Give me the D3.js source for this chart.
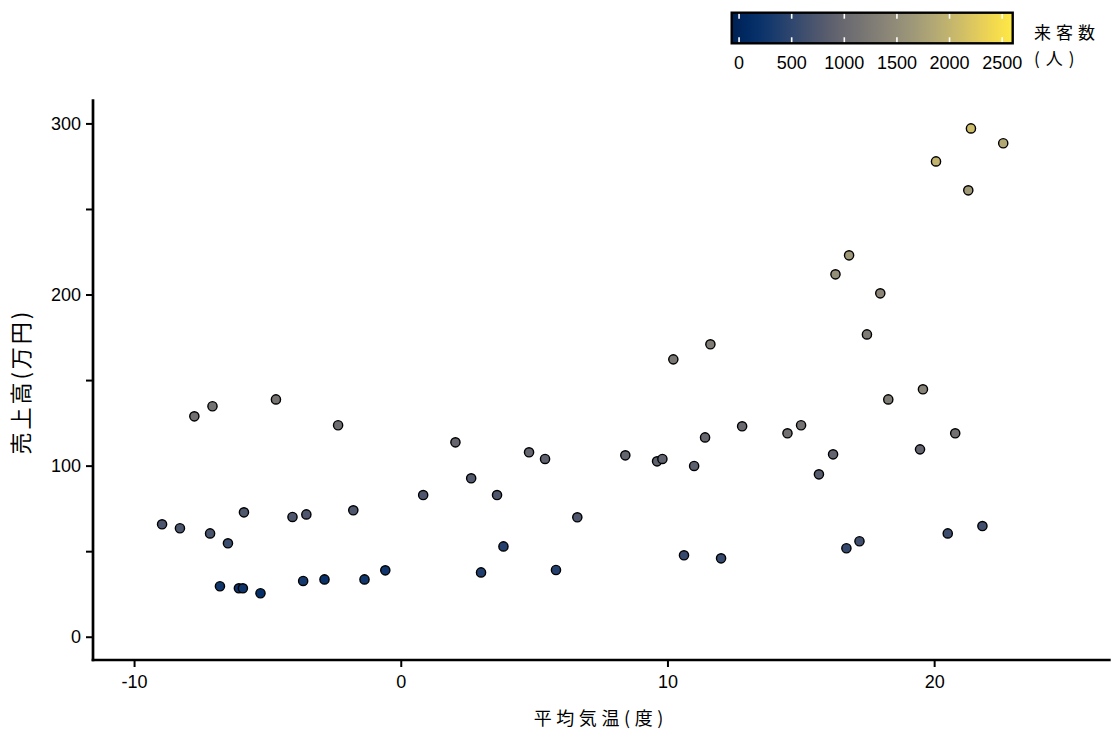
<!DOCTYPE html>
<html><head><meta charset="utf-8">
<script src="https://cdn.jsdelivr.net/npm/d3@7"></script>
<style>
html,body{margin:0;padding:0;background:#fff;}
svg{display:block;}
</style></head>
<body>
<svg id="chart" width="1116" height="735"></svg>
<script>
// 平均気温(度)
const temperature = [-8.95,-8.28,-7.74,-7.06,-7.15,-6.48,-5.88,-6.78,-6.07,-5.92,-5.26,-4.68,-4.06,-3.54,-3.66,-2.86,-2.35,-1.78,-1.36,-0.58,
  0.84,2.05,2.64,3.01,3.61,3.85,4.81,5.41,5.82,6.62,8.42,9.61,9.81,10.22,10.62,11.00,11.41,11.61,12.01,12.80,
  14.50,15.01,15.68,16.21,16.30,16.81,16.71,17.20,17.48,17.98,18.28,19.47,19.58,20.07,20.51,20.79,21.28,21.38,21.81,22.59];
// 売上高(万円)
const sales = [65.7,63.4,128.8,134.7,60.4,54.6,72.7,29.5,28.3,28.3,25.4,138.7,70.0,71.5,32.6,33.5,123.6,73.9,33.5,38.8,
  82.8,113.6,92.6,37.6,82.8,52.8,107.8,103.9,39.0,69.8,106.0,102.5,103.9,162.1,47.6,99.8,116.5,170.9,45.8,123.0,
  118.9,123.6,94.9,106.6,211.8,222.9,51.7,55.8,176.7,200.7,138.7,109.5,144.6,277.8,60.4,118.9,260.9,297.1,64.7,288.4];
// 来客数(人)
const visitors = [720,720,1100,1130,700,590,760,250,230,230,150,1150,740,750,290,190,1060,740,270,240,
  730,965,790,390,750,410,960,910,410,730,940,890,920,1185,560,860,970,1265,550,1010,
  1100,1130,810,930,1530,1640,545,625,1265,1400,1265,945,1370,1990,600,1120,1665,2080,625,1850];

const xTicks = [-10,0,10,20];
const yTicks = [0,50,100,150,200,250,300];
const yLabelTicks = [0,100,200,300];
const colorTicks = [0,500,1000,1500,2000,2500];
const xDomain = [-11.54,26.62];
const yDomain = [-13.6,314.1];
const colorDomain = [-70,2600];

const numFont = "'Liberation Sans', Arial, sans-serif";
const cjkFont = "'Noto Sans CJK JP', sans-serif";

const svg = d3.select("#chart");
const L = 93, R = 1110.7, T = 99.3, B = 660;

const x = d3.scaleLinear().domain(xDomain).range([L, R]);
const y = d3.scaleLinear().domain(yDomain).range([B, T]);
const color = d3.scaleSequential(d3.interpolateCividis).domain(colorDomain);

// points
svg.append("g").selectAll("circle")
  .data(temperature.map((t,i)=>({t, s:sales[i], v:visitors[i]})))
  .join("circle")
  .attr("cx", d=>x(d.t)).attr("cy", d=>y(d.s)).attr("r", 4.6)
  .attr("fill", d=>color(d.v)).attr("stroke", "#000").attr("stroke-width", 1.4);

// axes
const xAxis = svg.append("g").attr("transform", `translate(0,${B})`)
  .call(d3.axisBottom(x).tickValues(xTicks).tickSize(7).tickSizeOuter(0).tickPadding(8).tickFormat(d => String(d)));
const yAxis = svg.append("g").attr("transform", `translate(${L},0)`)
  .call(d3.axisLeft(y).tickValues(yTicks).tickSize(7).tickSizeOuter(0).tickPadding(5)
    .tickFormat(d => yLabelTicks.includes(d) ? String(d) : ""));
[xAxis, yAxis].forEach(a => {
  a.select(".domain").attr("stroke", "#000").attr("stroke-width", 2.7);
  a.selectAll(".tick line").attr("stroke", "#000").attr("stroke-width", 2);
  a.selectAll(".tick text").attr("fill", "#000").style("font-family", numFont).style("font-size", "18px");
});
// make axis lines meet at corner
xAxis.select(".domain").attr("d", `M${L-1.35},0H${R}`);
yAxis.select(".domain").attr("d", `M0,${T}V${B+1.35}`);

// axis titles
svg.append("text").attr("x", (L+R)/2 - 1).attr("y", 717)
  .attr("text-anchor", "middle").attr("dominant-baseline", "central")
  .style("font-family", cjkFont).style("font-size", "18px").style("letter-spacing", "4.6px")
  .text("平均気温(度)");
svg.append("text").attr("transform", `translate(19,${(T+B)/2 + 2}) rotate(-90)`)
  .attr("text-anchor", "middle").attr("dominant-baseline", "central")
  .style("font-family", cjkFont).style("font-size", "22px").style("letter-spacing", "3px")
  .text("売上高(万円)");

// colour bar legend
const cbL = 731.7, cbR = 1012.7, cbT = 12.7, cbB = 43.3;
const cx = d3.scaleLinear().domain(colorDomain).range([cbL, cbR]);
const defs = svg.append("defs");
const grad = defs.append("linearGradient").attr("id", "cb").attr("x1", "0%").attr("x2", "100%");
d3.range(0, 1.0001, 0.05).forEach(t => {
  grad.append("stop").attr("offset", `${t*100}%`).attr("stop-color", color(colorDomain[0] + t*(colorDomain[1]-colorDomain[0])));
});
svg.append("rect").attr("x", cbL).attr("y", cbT).attr("width", cbR-cbL).attr("height", cbB-cbT)
  .attr("fill", "url(#cb)");
const cbTicks = svg.append("g");
colorTicks.forEach(v => {
  cbTicks.append("line").attr("x1", cx(v)).attr("x2", cx(v)).attr("y1", cbT).attr("y2", cbT+6)
    .attr("stroke", "#fff").attr("stroke-width", 1.6);
  cbTicks.append("line").attr("x1", cx(v)).attr("x2", cx(v)).attr("y1", cbB-6).attr("y2", cbB)
    .attr("stroke", "#fff").attr("stroke-width", 1.6);
});
svg.append("rect").attr("x", cbL).attr("y", cbT).attr("width", cbR-cbL).attr("height", cbB-cbT)
  .attr("fill", "none").attr("stroke", "#000").attr("stroke-width", 2.4);
svg.append("g").selectAll("text").data(colorTicks).join("text")
  .attr("x", d => cx(d)).attr("y", 69.3).attr("text-anchor", "middle")
  .style("font-family", numFont).style("font-size", "18px").attr("fill", "#000")
  .text(d => d);
svg.append("text").attr("x", 1034).attr("y", 31).attr("dominant-baseline", "central")
  .style("font-family", cjkFont).style("font-size", "17px").style("letter-spacing", "5px")
  .text("来客数");
svg.append("text").attr("x", 1034).attr("y", 57.5).attr("dominant-baseline", "central")
  .style("font-family", cjkFont).style("font-size", "17px").style("letter-spacing", "6px")
  .text("(人)");
</script>
</body></html>
